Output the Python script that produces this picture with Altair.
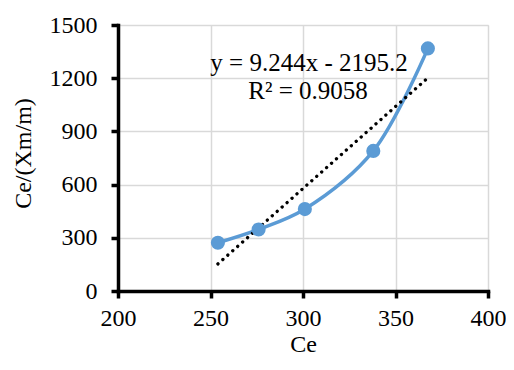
import altair as alt
import pandas as pd

ce = [254.0, 276.0, 301.0, 338.0, 367.5]
ce_ratio = [272, 347, 462, 790, 1368]

slope = 9.244
intercept = -2195.2
eq_lines = ["y = 9.244x - 2195.2", "R² = 0.9058"]
x_ticks = [200, 250, 300, 350, 400]
y_ticks = [0, 300, 600, 900, 1200, 1500]

df = pd.DataFrame({"Ce": ce, "R": ce_ratio})
trend_x = [min(ce), max(ce)]
trend = pd.DataFrame({"Ce": trend_x, "R": [slope * v + intercept for v in trend_x]})
txt = pd.DataFrame({"t": eq_lines, "row": [0, 1]})

FONT = "Liberation Serif"
FS = 24

xs = alt.Scale(domain=[200, 400], nice=False, zero=False)
ys = alt.Scale(domain=[0, 1500], nice=False)

style = dict(grid=True, gridColor="#d9d9d9", gridWidth=1.5,
             domainColor="black", domainWidth=3.5, domainCap="square",
             tickColor="black", tickWidth=3.5, tickSize=7,
             labelFont=FONT, labelFontSize=FS, labelColor="black",
             titleFont=FONT, titleFontSize=FS, titleFontWeight="normal",
             titleColor="black", labelFlush=False, format="d")

xaxis = alt.Axis(values=x_ticks, title="Ce", labelPadding=8, titlePadding=2, **style)
yaxis = alt.Axis(values=y_ticks, title="Ce/(Xm/m)", labelPadding=14,
                 titleX=-95, titleY=128, titleBaseline="middle", **style)

base_line = alt.Chart(df).mark_line(color="#5B9BD5", strokeWidth=3.5,
                                    interpolate="catmull-rom").encode(
    x=alt.X("Ce:Q", scale=xs, axis=xaxis),
    y=alt.Y("R:Q", scale=ys, axis=yaxis),
)
pts = alt.Chart(df).mark_circle(color="#5B9BD5", size=200, opacity=1).encode(
    x=alt.X("Ce:Q", scale=xs, axis=xaxis), y=alt.Y("R:Q", scale=ys, axis=yaxis))

tl = alt.Chart(trend).mark_line(color="black", strokeWidth=3.3, strokeDash=[0.1, 6.5],
                                strokeCap="round").encode(
    x=alt.X("Ce:Q", scale=xs, axis=xaxis), y=alt.Y("R:Q", scale=ys, axis=yaxis))

t1 = alt.Chart(txt).transform_filter("datum.row == 0").mark_text(
    font=FONT, fontSize=25, color="black", align="center", baseline="middle").encode(
    text="t:N", x=alt.value(191), y=alt.value(38))
t2 = alt.Chart(txt).transform_filter("datum.row == 1").mark_text(
    font=FONT, fontSize=25, color="black", align="center", baseline="middle").encode(
    text="t:N", x=alt.value(190), y=alt.value(66))

chart = alt.layer(base_line, tl, pts, t1, t2).properties(
    width=370, height=266,
    autosize=alt.AutoSizeParams(type="none"),
    padding={"left": 110, "top": 17, "right": 18, "bottom": 70},
).configure_view(stroke=None).configure(background="white")

chart.save("out.html", embed_options={"renderer": "svg", "actions": False})
